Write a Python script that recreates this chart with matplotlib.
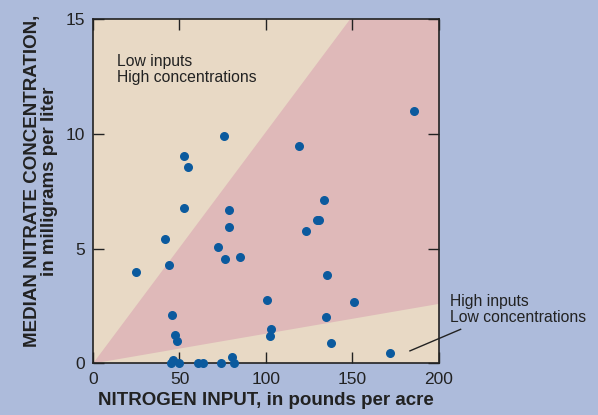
import matplotlib.pyplot as plt
import numpy as np

plt.rcParams['font.family'] = ['Liberation Sans', 'DejaVu Sans']

# nitrogen input (lb/acre) and median nitrate (mg/L)
n_input = [185.7, 75.5, 119.3, 52.6, 55.1, 133.3, 52.6, 78.6, 78.6, 129.5, 130.5,
           123.3, 41.9, 72.3, 76.3, 85.0, 43.9, 24.9, 135.4, 100.8, 151.0,
           45.8, 134.9, 102.7, 102.1, 47.4, 48.4, 137.4, 171.7, 80.3, 81.7,
           45.1, 46.4, 49.7, 60.9, 63.8, 74.2]
nitrate = [11.01, 9.93, 9.49, 9.04, 8.56, 7.13, 6.78, 6.69, 5.95, 6.24, 6.27,
           5.79, 5.44, 5.09, 4.56, 4.63, 4.28, 3.99, 3.87, 2.78, 2.68,
           2.13, 2.01, 1.49, 1.19, 1.26, 0.96, 0.88, 0.44, 0.28, 0.02,
           0.04, 0.15, 0.0, 0.02, 0.0, 0.0]

# boundary slopes of the middle band (mg/L per lb/acre)
upper_slope = 15 / 148.5
lower_slope = 2.6 / 200

fig = plt.figure(figsize=(5.98, 4.15), dpi=100)
fig.patch.set_facecolor('#adbbdb')
ax = fig.add_axes([0.1555, 0.1241, 0.5786, 0.829])
ax.set_facecolor('#e8d9c5')

xx = np.array([0, 200])
ax.fill_between(xx, lower_slope * xx, upper_slope * xx, color='#dfb9b9', lw=0)

ax.scatter(n_input, nitrate, s=30, color='#0b5a9e', zorder=3, clip_on=False)

ax.set_xlim(0, 200)
ax.set_ylim(0, 15)
ax.set_xticks([0, 50, 100, 150, 200])
ax.set_yticks([0, 5, 10, 15])
ax.tick_params(direction='in', length=8, width=1, labelsize=12.5, pad=6,
               top=True, right=True, colors='#222222')
for s in ax.spines.values():
    s.set_linewidth(1.2)
    s.set_color('#222222')

ax.text(13.7, 13.5, 'Low inputs\nHigh concentrations', fontsize=11.3,
        va='top', ha='left', linespacing=1.1, color='#222222')
ax.text(206.4, 3.02, 'High inputs\nLow concentrations', fontsize=11.3,
        va='top', ha='left', linespacing=1.1, color='#222222', clip_on=False)
ax.plot([183.2, 212.5], [0.55, 1.49], color='#222222', lw=1, clip_on=False)

ax.set_xlabel('NITROGEN INPUT, in pounds per acre', fontsize=13.5,
              fontweight='bold', labelpad=4, color='#222222')
fig.text(0.054, 1 - 181 / 415, 'MEDIAN NITRATE CONCENTRATION,', rotation=90,
         fontsize=13.5, fontweight='bold', ha='center', va='center', color='#222222')
fig.text(0.083, 1 - 181 / 415, 'in milligrams per liter', rotation=90,
         fontsize=13.5, fontweight='bold', ha='center', va='center', color='#222222')

fig.savefig('out.png', dpi=100, facecolor=fig.get_facecolor())
